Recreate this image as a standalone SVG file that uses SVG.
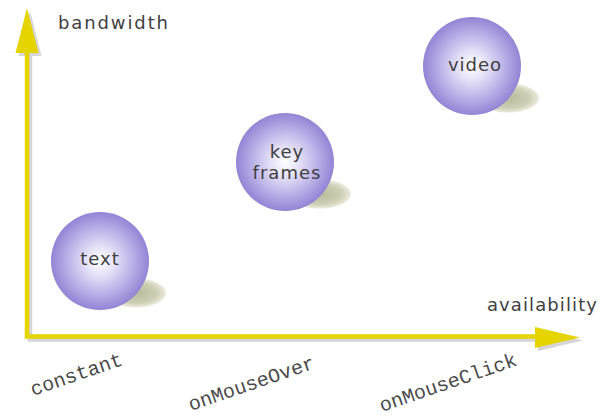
<svg xmlns="http://www.w3.org/2000/svg" width="611" height="419" viewBox="0 0 611 419">
  <defs>
    <radialGradient id="sphere" cx="0.5" cy="0.5" r="0.5">
      <stop offset="0" stop-color="#ffffff"/>
      <stop offset="0.3" stop-color="#e4e1f7"/>
      <stop offset="0.7" stop-color="#b6ace6"/>
      <stop offset="1" stop-color="#9384d4"/>
    </radialGradient>
    <radialGradient id="shadow" cx="0.5" cy="0.5" r="0.5">
      <stop offset="0" stop-color="#b9b99a"/>
      <stop offset="0.7" stop-color="#cfcfb6"/>
      <stop offset="1" stop-color="#ececdf"/>
    </radialGradient>
  </defs>
  <style>
    .ax { fill: none; stroke: #e6d400; stroke-width: 4.5; stroke-linecap: square; stroke-linejoin: miter; }
    .axs { fill: none; stroke: #d6d6d6; stroke-width: 4.5; stroke-linecap: square; stroke-linejoin: miter; }
    .head { fill: #e6d400; }
    .heads { fill: #d6d6d6; }
    .lbl { font-family: "DejaVu Sans", "Liberation Sans", sans-serif; font-size: 18px; fill: #404040; }
    .slbl { font-family: "DejaVu Sans", "Liberation Sans", sans-serif; font-size: 18px; fill: #404040; text-anchor: middle; letter-spacing: 1px; }
    .mono { font-family: "Liberation Mono", "Courier New", monospace; font-size: 20px; fill: #4a4a4a; }
    .ball { fill: url(#sphere); }
    .shd { fill: url(#shadow); }
  </style>

  <g id="axes">
    <path class="axs" d="M30,56 V339.5 H538"/>
    <polygon class="heads" points="30,11 18.5,56 41.5,56"/>
    <polygon class="heads" points="583,340.5 538,330 538,351"/>
    <path class="ax" d="M27,53 V336.5 H535"/>
    <polygon class="head" points="27,8 15.5,53 38.5,53"/>
    <polygon class="head" points="580,337.5 535,327 535,348"/>
    <text class="lbl" x="58" y="29" textLength="110" lengthAdjust="spacing">bandwidth</text>
    <text class="lbl" x="487" y="311" textLength="110" lengthAdjust="spacing">availability</text>
  </g>

  <g id="node-text">
    <ellipse class="shd" cx="136" cy="293" rx="30" ry="14.5"/>
    <circle class="ball" cx="100" cy="261" r="49"/>
    <text class="slbl" x="100" y="265">text</text>
  </g>

  <g id="node-keyframes">
    <ellipse class="shd" cx="320" cy="194" rx="31" ry="14.5"/>
    <circle class="ball" cx="285" cy="162" r="49"/>
    <text class="slbl" x="287" y="158">key</text>
    <text class="slbl" x="287" y="179">frames</text>
  </g>

  <g id="node-video">
    <ellipse class="shd" cx="508" cy="98" rx="31" ry="14.5"/>
    <circle class="ball" cx="472" cy="66" r="49"/>
    <text class="slbl" x="475" y="71">video</text>
  </g>

  <g id="axis-labels">
    <text class="mono" transform="translate(33,396) rotate(-19)">constant</text>
    <text class="mono" transform="translate(191,411) rotate(-19)">onMouseOver</text>
    <text class="mono" transform="translate(382,412) rotate(-19)">onMouseClick</text>
  </g>
</svg>
